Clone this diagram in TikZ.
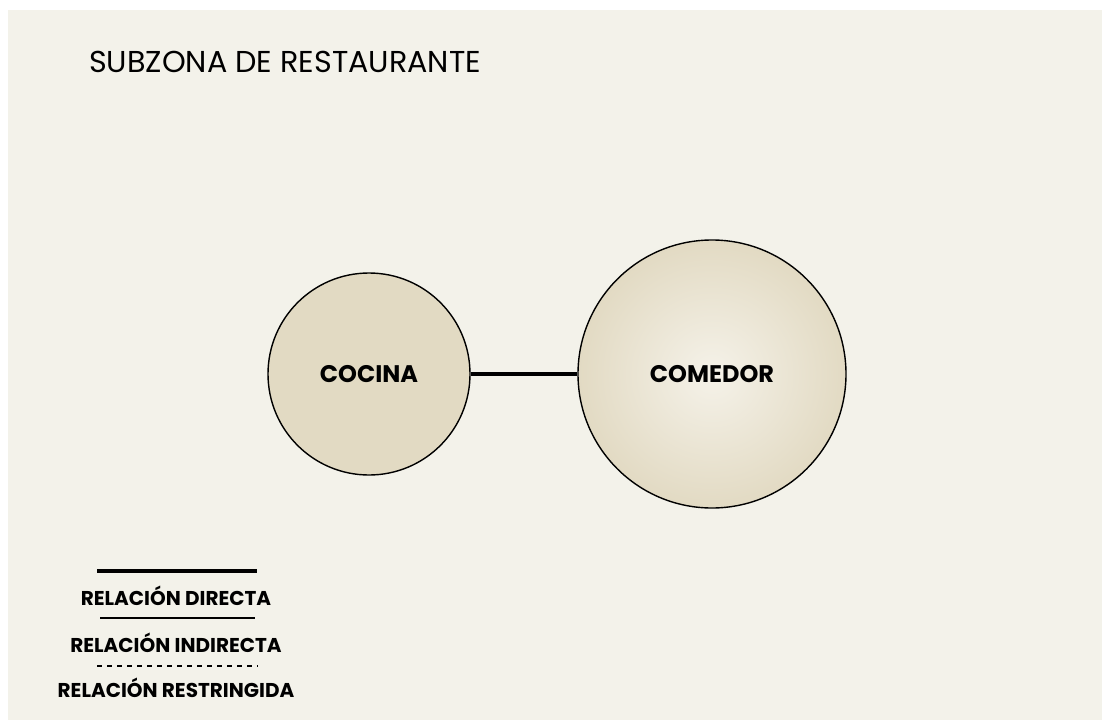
\documentclass[tikz,border=0pt]{standalone}
\usepackage{fontspec}
\setmainfont{Poppins}
\usepackage{tikz}
\usetikzlibrary{positioning}
\definecolor{planbg}{HTML}{F3F2EA}
\definecolor{zonefill}{HTML}{E2DAC3}
\definecolor{zonelight}{HTML}{F5F2E9}

\begin{document}
\begin{tikzpicture}[x=1pt, y=-1pt,
  zone/.style={circle, draw=black, line width=1.4pt, font=\bfseries\fontsize{24}{28}\selectfont},
  legendtext/.style={anchor=base, font=\bfseries\fontsize{20}{24}\selectfont, inner sep=0pt}]
  \useasboundingbox (0,0) rectangle (1102,720);
  \fill[planbg] (8,10) rectangle (1102,720);

  \node[anchor=base west, inner sep=0pt, font=\fontsize{30.2}{36}\selectfont] (title) at (89,72) {SUBZONA DE RESTAURANTE};

  \node[zone, minimum size=202pt, fill=zonefill] (cocina) at (369,374) {COCINA};
  \node[zone, minimum size=268pt, inner color=zonelight, outer color=zonefill] (comedor) at (712,374) {COMEDOR};
  \draw[line width=3.5pt] (cocina) -- (comedor);

  % leyenda
  \coordinate (directaA) at (97,571);
  \coordinate (directaB) at (257,571);
  \node[legendtext] (directa) at (176,605) {RELACIÓN DIRECTA};
  \coordinate (indirectaA) at (100,618);
  \coordinate (indirectaB) at (255,618);
  \node[legendtext] (indirecta) at (176,652) {RELACIÓN INDIRECTA};
  \coordinate (restringidaA) at (97,666);
  \coordinate (restringidaB) at (258,666);
  \node[legendtext] (restringida) at (176,697) {RELACIÓN RESTRINGIDA};

  \draw[line width=3.5pt] (directaA) -- (directaB);
  \draw[line width=1.5pt] (indirectaA) -- (indirectaB);
  \draw[line width=1.3pt, dash pattern=on 5pt off 5pt] (restringidaA) -- (restringidaB);
\end{tikzpicture}
\end{document}
